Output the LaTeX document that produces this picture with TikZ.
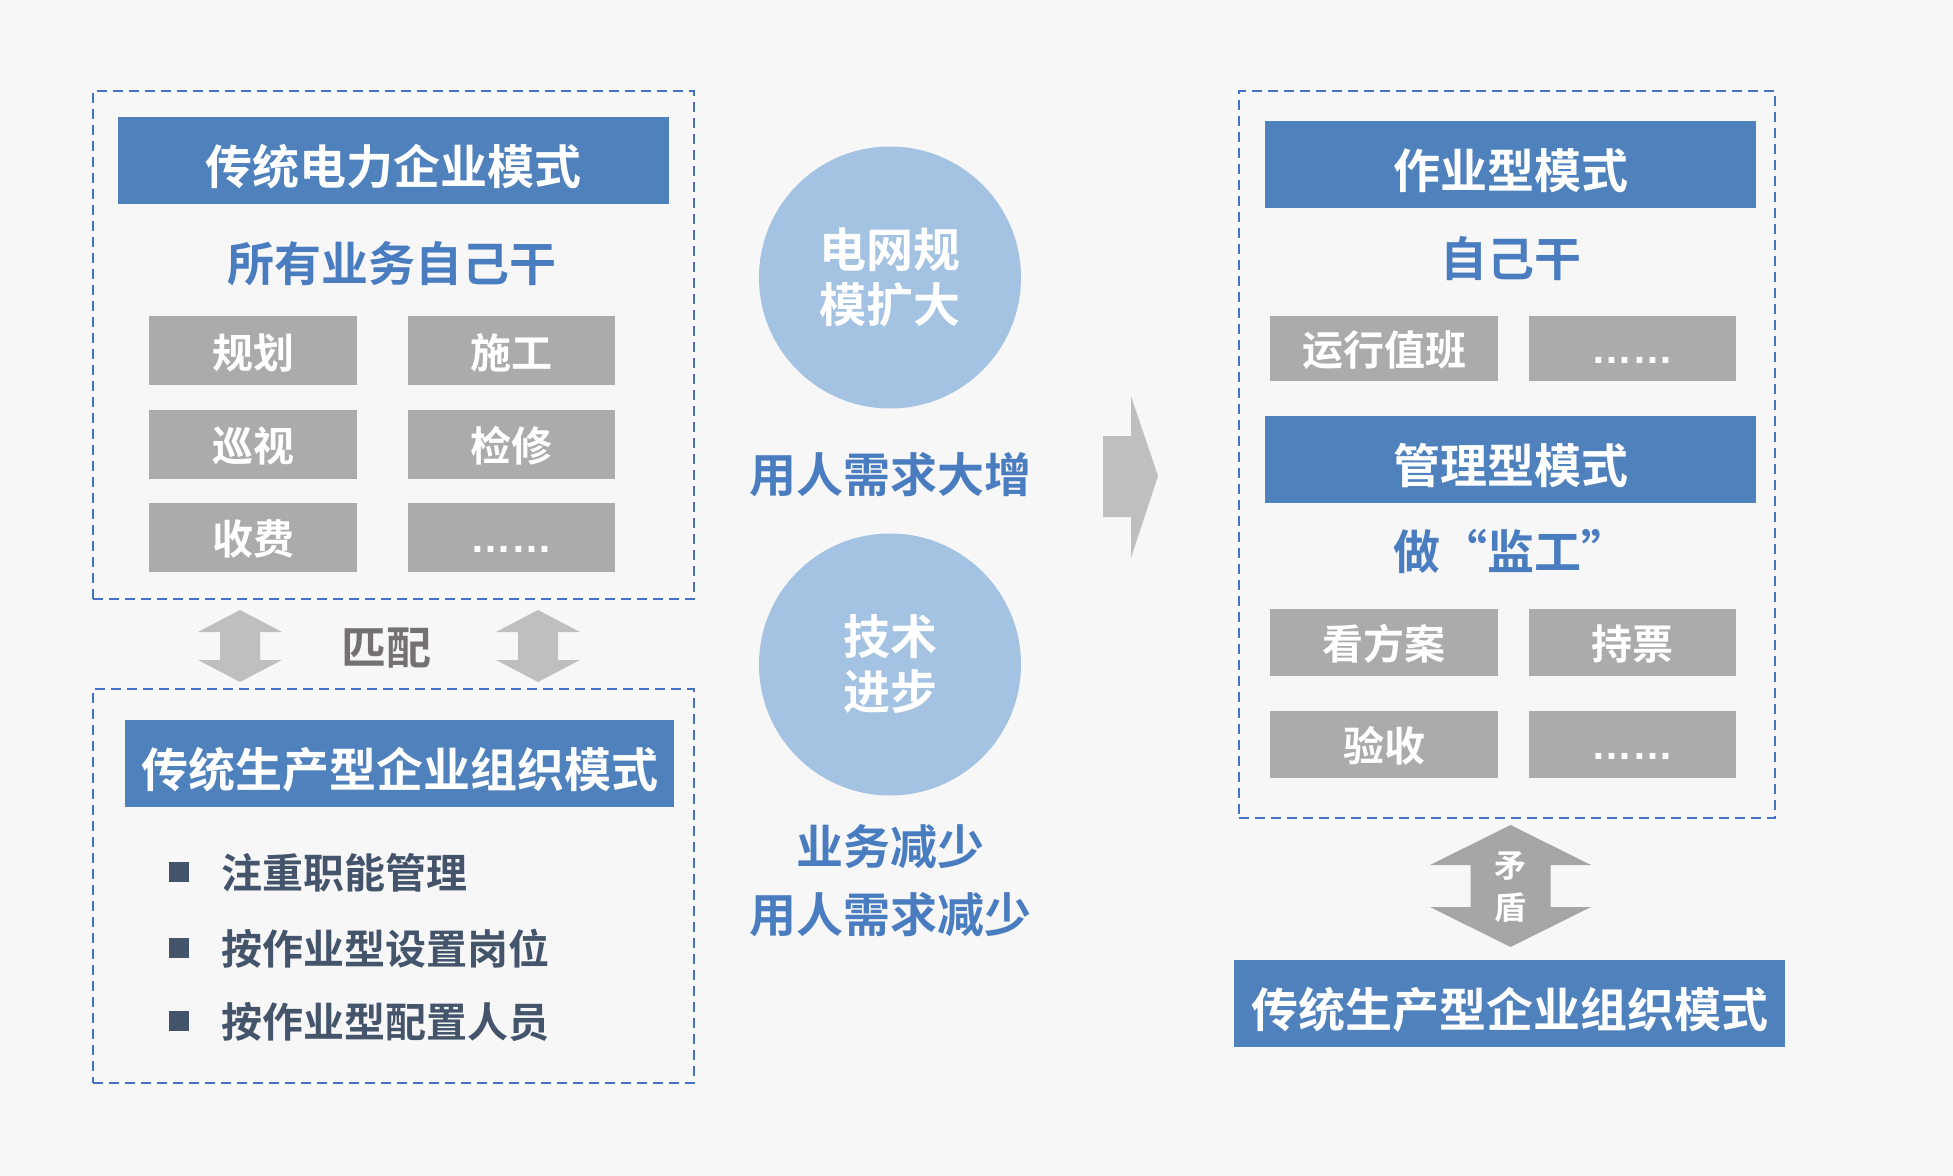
\documentclass[tikz,border=0pt]{standalone}
\usepackage{fontspec}
\setmainfont{Noto Sans CJK SC}[BoldFont={Noto Sans CJK SC Bold}]
\newfontfamily\latfont{Liberation Sans}
\definecolor{bg}{HTML}{F7F7F7}
\definecolor{dashblue}{HTML}{4472C4}
\definecolor{barblue}{HTML}{4F81BD}
\definecolor{txtblue}{HTML}{4A7CC0}
\definecolor{boxgrey}{HTML}{ABABAB}
\definecolor{arrgrey}{HTML}{BFBFBF}
\definecolor{arrdark}{HTML}{A6A6A6}
\definecolor{circblue}{HTML}{A4C2E2}
\definecolor{bullc}{HTML}{44546A}
\definecolor{matchc}{HTML}{767171}
\begin{document}
\begin{tikzpicture}[x=0.5pt,y=-0.5pt,
  dbox/.style={draw=dashblue, line width=1.3pt, dash pattern=on 5pt off 3pt, inner sep=0pt},
  bar/.style={fill=barblue, text=white, inner sep=0pt, text height=26pt, text depth=2pt, font=\bfseries\fontsize{23.5}{28}\selectfont},
  gbox/.style={fill=boxgrey, text=white, inner sep=0pt, text height=19pt, text depth=1.6pt, font=\bfseries\fontsize{20.5}{24}\selectfont},
  btext/.style={text=txtblue, inner sep=0pt, font=\bfseries\fontsize{23.5}{28}\selectfont},
  circ/.style={circle, fill=circblue, minimum size=131pt, inner sep=0pt, text=white, align=center, font=\bfseries\fontsize{23.5}{27.5}\selectfont},
  bul/.style={fill=bullc, minimum size=10pt, inner sep=0pt},
  bultext/.style={text=bullc, anchor=west, inner sep=0pt, font=\bfseries\fontsize{20.5}{24}\selectfont},
  dots/.style={text height=17.2pt, text depth=2pt, font=\latfont\bfseries\fontsize{20.5}{22}\selectfont}
]
\useasboundingbox (0,0) rectangle (1953,1176);
\fill[bg] (0,0) rectangle (1953,1176);

% ---------- left top box ----------
\node[dbox, minimum width=300.5pt, minimum height=254pt] (ltbox) at (393.5,345) {};
\node[bar, minimum width=275.5pt, minimum height=43.5pt] (lttitle) at (393.5,160.5) {传统电力企业模式};
\node[btext] (ltsub) at (392,264) {所有业务自己干};
\node[gbox, minimum width=104pt, minimum height=34.5pt] (g11) at (253,351) {规划};
\node[gbox, minimum width=103.5pt, minimum height=34.5pt] (g12) at (511.5,351) {施工};
\node[gbox, minimum width=104pt, minimum height=34.5pt] (g21) at (253,444) {巡视};
\node[gbox, minimum width=103.5pt, minimum height=34.5pt] (g22) at (511.5,444) {检修};
\node[gbox, minimum width=104pt, minimum height=34.5pt] (g31) at (253,537.5) {收费};
\node[gbox, minimum width=103.5pt, minimum height=34.5pt, dots] (g32) at (511.5,537.5) {……};

% ---------- match arrows ----------
\foreach \cx in {240,538}{
  \fill[arrgrey] (\cx,610) -- (\cx+42,632) -- (\cx+20,632) -- (\cx+20,660) -- (\cx+42,660)
    -- (\cx,682) -- (\cx-42,660) -- (\cx-20,660) -- (\cx-20,632) -- (\cx-42,632) -- cycle;
}
\node[text=matchc, inner sep=0pt, font=\bfseries\fontsize{22.5}{26}\selectfont] (match) at (386,648) {匹配};

% ---------- left bottom box ----------
\node[dbox, minimum width=300.5pt, minimum height=197pt] (lbbox) at (393.5,886) {};
\node[bar, minimum width=274.5pt, minimum height=43.5pt] (lbtitle) at (399.5,763.5) {传统生产型企业组织模式};
\node[bul] (b1) at (179,872) {};
\node[bul] (b2) at (179,948) {};
\node[bul] (b3) at (179,1021) {};
\node[bultext] (t1) at (221,873) {注重职能管理};
\node[bultext] (t2) at (221,949) {按作业型设置岗位};
\node[bultext] (t3) at (221,1022) {按作业型配置人员};

% ---------- middle ----------
\node[circ] (c1) at (890,277.5) {电网规\\模扩大};
\node[btext] (m1) at (890,475) {用人需求大增};
\node[circ] (c2) at (890,664.5) {技术\\进步};
\node[btext] (m2) at (890,847) {业务减少};
\node[btext] (m3) at (890,915) {用人需求减少};
\fill[arrgrey] (1103,436) -- (1131,436) -- (1131,396) -- (1158,476) -- (1131,558) -- (1131,517) -- (1103,517) -- cycle;

% ---------- right top box ----------
\node[dbox, minimum width=268pt, minimum height=363.5pt] (rtbox) at (1507,454.5) {};
\node[bar, minimum width=245.5pt, minimum height=43.5pt] (rt1) at (1510.5,164.5) {作业型模式};
\node[btext] (rs1) at (1511,259) {自己干};
\node[gbox, minimum width=114pt, minimum height=32.5pt] (r11) at (1384,348.5) {运行值班};
\node[gbox, minimum width=103.5pt, minimum height=32.5pt, dots] (r12) at (1632.5,348.5) {……};
\node[bar, minimum width=245.5pt, minimum height=43.5pt] (rt2) at (1510.5,459) {管理型模式};
\node[btext] (rs2) at (1511,551) {做“监工”};
\node[gbox, minimum width=114pt, minimum height=33.5pt] (r21) at (1384,642.5) {看方案};
\node[gbox, minimum width=103.5pt, minimum height=33.5pt] (r22) at (1632.5,642.5) {持票};
\node[gbox, minimum width=114pt, minimum height=33.5pt] (r31) at (1384,744.5) {验收};
\node[gbox, minimum width=103.5pt, minimum height=33.5pt, dots] (r32) at (1632.5,744.5) {……};

% ---------- contradiction arrow ----------
\fill[arrdark] (1510.5,825) -- (1591,865) -- (1550.5,865) -- (1550.5,907) -- (1591,907)
  -- (1510.5,947) -- (1430,907) -- (1470.5,907) -- (1470.5,865) -- (1430,865) -- cycle;
\node[text=white, inner sep=0pt, align=center, font=\bfseries\fontsize{16}{21}\selectfont] (md) at (1510.5,887) {矛\\盾};

\node[bar, minimum width=275.5pt, minimum height=43.5pt] (rbtitle) at (1509.5,1003.5) {传统生产型企业组织模式};
\end{tikzpicture}
\end{document}
